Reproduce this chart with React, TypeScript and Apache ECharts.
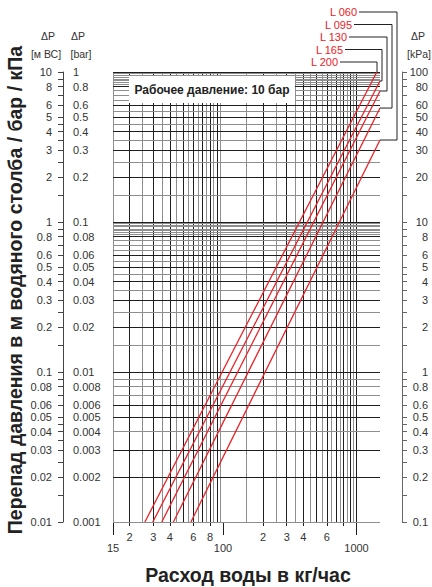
import React, { useEffect, useRef } from "react";
import * as echarts from "echarts";

const FONT = '"Liberation Sans", Arial, sans-serif';
const DARK = "#1e1e1e";
const GREY = "#8e8e8e";
const TEXT = "#333333";
const RED = "#ea2228";

// x axis: water flow, kg/h (log)
const flowMin = 15;
const flowMax = 1500;
const flowLabelValues = [15, 20, 30, 40, 60, 80, 100, 200, 300, 400, 600, 800, 1000];
const flowMajorLabels = [15, 100, 1000];
const flowMinorTicks = [20, 30, 40, 60, 80, 200, 300, 400, 600, 800];
const flowDecades = [10, 100];
const flowGridMantissas = [1.5, 2, 2.5, 3, 3.5, 4, 4.5, 5, 5.5, 6, 6.5, 7, 7.5, 8, 8.5, 9, 9.5];
const flowGridTop = [1000];

// y axis: pressure drop, m WC (log); bar = m/10, kPa = m*10
const dpMin = 0.01;
const dpMax = 10;
const dpDecades = [0.01, 0.1, 1];
const dpLabelMantissas = [1, 2, 3, 4, 5, 6, 8];
const dpTickMantissas = [1, 1.5, 2, 2.5, 3, 3.5, 4, 4.5, 5, 6, 7, 8, 9];
const dpGridMantissas = [1, 1.5, 2, 2.5, 3, 3.5, 4, 4.5, 5, 5.5, 6, 6.5, 7, 7.5, 8, 8.25, 8.5, 8.75, 9, 9.25, 9.5, 9.75];

// valve curves (two end points each)
const curveNames = ["L 060", "L 095", "L 130", "L 165", "L 200"];
const curveStartFlow = [57.5, 42.5, 34.8, 29.8, 26.0]; // kg/h at 0.01 m WC
const curveStartDp = [0.01, 0.01, 0.01, 0.01, 0.01];
const curveEndFlow = [1500, 1500, 1500, 1500, 1420];
const curveEndDp = [3.52, 5.75, 7.47, 8.71, 10];

const fmt = (v: number) => String(parseFloat(v.toPrecision(6)));

export default function App() {
  const ref = useRef<HTMLDivElement>(null);
  useEffect(() => {
    const chart = echarts.init(ref.current!, null, { renderer: "svg" });

    const dpTicks = dpDecades.flatMap((d) => dpTickMantissas.map((m) => m * d)).concat([dpMax]);
    const dpLabels = dpDecades.flatMap((d) => dpLabelMantissas.map((m) => m * d)).concat([dpMax]);

    const gridLines: any[] = [];
    flowDecades.forEach((d) =>
      flowGridMantissas.forEach((m) =>
        gridLines.push({ xAxis: m * d, lineStyle: { color: Number.isInteger(m) ? DARK : GREY, width: 1, type: "solid" } })
      )
    );
    flowGridTop.forEach((v) => gridLines.push({ xAxis: v, lineStyle: { color: DARK, width: 1, type: "solid" } }));
    dpDecades.forEach((d) =>
      dpGridMantissas.forEach((m) =>
        gridLines.push({ yAxis: m * d, lineStyle: { color: dpLabelMantissas.includes(m) ? DARK : GREY, width: 1, type: "solid" } })
      )
    );
    gridLines.push({ yAxis: dpMax, lineStyle: { color: DARK, width: 1, type: "solid" } });

    const yBase = {
      type: "log",
      logBase: 10,
      min: dpMin,
      max: dpMax,
      splitLine: { show: false },
      minorTick: { show: false },
    };

    const option: any = {
      animation: false,
      backgroundColor: "#ffffff",
      grid: { left: 113, top: 72, width: 267, height: 450, containLabel: false, outerBoundsMode: "none" },
      xAxis: [
        {
          type: "log",
          logBase: 10,
          min: flowMin,
          max: flowMax,
          position: "bottom",
          axisLine: { show: false },
          splitLine: { show: false },
          axisTick: { show: true, customValues: flowMajorLabels, length: 13, lineStyle: { color: DARK, width: 1 } },
          axisLabel: {
            show: true,
            customValues: flowLabelValues,
            showMinLabel: true,
            showMaxLabel: true,
            margin: 9,
            fontSize: 11,
            lineHeight: 11,
            fontFamily: FONT,
            color: TEXT,
            formatter: (v: number) => {
              const r = Math.round(v);
              if (flowMajorLabels.includes(r)) return "\n" + r;
              const p = Math.pow(10, Math.floor(Math.log10(v) + 1e-9));
              return String(Math.round(v / p));
            },
          },
        },
        {
          type: "log",
          logBase: 10,
          min: flowMin,
          max: flowMax,
          position: "bottom",
          axisLine: { show: false },
          splitLine: { show: false },
          axisTick: { show: true, customValues: flowMinorTicks, length: 4, lineStyle: { color: DARK, width: 1 } },
          axisLabel: { show: false },
        },
      ],
      yAxis: [
        {
          ...yBase,
          position: "left",
          offset: 50,
          axisLine: { show: true, lineStyle: { color: "#444", width: 1 } },
          axisTick: { show: true, customValues: dpTicks, length: 5, lineStyle: { color: "#444", width: 1 } },
          axisLabel: {
            show: true,
            customValues: dpLabels,
            showMinLabel: true,
            showMaxLabel: true,
            margin: 11,
            fontSize: 11,
            fontFamily: FONT,
            color: TEXT,
            formatter: (v: number) => fmt(v),
          },
        },
        {
          ...yBase,
          position: "left",
          offset: 50,
          axisLine: { show: false },
          axisTick: { show: false },
          axisLabel: {
            show: true,
            inside: true,
            customValues: dpLabels,
            showMinLabel: true,
            showMaxLabel: true,
            margin: 10,
            fontSize: 11,
            fontFamily: FONT,
            color: TEXT,
            align: "left",
            formatter: (v: number) => fmt(v / 10),
          },
        },
        {
          ...yBase,
          position: "right",
          offset: 22,
          axisLine: { show: true, lineStyle: { color: "#666", width: 1 } },
          axisTick: { show: true, customValues: dpTicks, length: 5, lineStyle: { color: "#666", width: 1 } },
          axisLabel: {
            show: true,
            customValues: dpLabels,
            showMinLabel: true,
            showMaxLabel: true,
            margin: 26,
            align: "right",
            fontSize: 11,
            fontFamily: FONT,
            color: TEXT,
            formatter: (v: number) => fmt(v * 10),
          },
        },
      ],
      series: [
        {
          type: "line",
          name: "grid",
          xAxisIndex: 0,
          yAxisIndex: 0,
          data: [],
          z: 1,
          silent: true,
          markLine: {
            silent: true,
            symbol: ["none", "none"],
            label: { show: false },
            emphasis: { disabled: true },
            animation: false,
            data: gridLines,
          },
        },
        ...curveNames.map((name, i) => ({
          type: "line",
          name,
          xAxisIndex: 0,
          yAxisIndex: 0,
          z: 5,
          symbol: "none",
          silent: true,
          lineStyle: { color: RED, width: 1.3 },
          data: [
            [curveStartFlow[i], curveStartDp[i]],
            [curveEndFlow[i], curveEndDp[i]],
          ],
        })),
      ],
    };

    chart.setOption(option);

    // annotations: labels with leader lines to the curve ends
    const textRight = [357, 352, 347, 343, 338];
    const textY = [12, 24.5, 37, 49.5, 62];
    const leaderX = [397, 392, 387, 382, 377];
    const graphics: any[] = [];
    curveNames.forEach((name, i) => {
      const end = chart.convertToPixel({ xAxisIndex: 0, yAxisIndex: 0 }, [curveEndFlow[i], curveEndDp[i]]) as number[];
      graphics.push({
        type: "text",
        z: 20,
        style: {
          text: name,
          x: textRight[i],
          y: textY[i],
          fill: RED,
          font: `11px ${FONT}`,
          align: "right",
          verticalAlign: "middle",
        },
      });
      graphics.push({
        type: "polyline",
        z: 20,
        shape: {
          points: [
            [textRight[i] + 2, textY[i]],
            [leaderX[i], textY[i]],
            [leaderX[i], end[1]],
            [end[0], end[1]],
          ],
        },
        style: { stroke: "#222", lineWidth: 1, fill: null },
      });
    });

    // pressure box
    graphics.push({
      type: "rect",
      z: 20,
      shape: { x: 129, y: 76, width: 166, height: 27 },
      style: { fill: "#ffffff" },
    });
    graphics.push({
      type: "text",
      z: 21,
      style: {
        text: "Рабочее давление: 10 бар",
        x: 212,
        y: 90,
        fill: "#222",
        font: `bold 12px ${FONT}`,
        align: "center",
        verticalAlign: "middle",
      },
    });

    // axis headers
    const header = (text: string, x: number, y: number, align = "center") => ({
      type: "text",
      z: 20,
      style: { text, x, y, fill: TEXT, font: `10.5px ${FONT}`, align, verticalAlign: "middle" },
    });
    graphics.push(header("ΔP", 48, 36));
    graphics.push(header("[м ВС]", 46, 54));
    graphics.push(header("ΔP", 78, 36));
    graphics.push(header("[bar]", 81, 54));
    graphics.push(header("ΔP", 418, 36));
    graphics.push(header("[kPa]", 419, 54));

    // titles
    graphics.push({
      type: "text",
      z: 20,
      x: 15,
      y: 290,
      rotation: Math.PI / 2,
      style: {
        text: "Перепад давления в м водяного столба / бар / кПа",
        x: 0,
        y: 0,
        fill: "#222",
        font: `bold 19.5px ${FONT}`,
        align: "center",
        verticalAlign: "middle",
      },
    });
    graphics.push({
      type: "text",
      z: 20,
      style: {
        text: "Расход воды в кг/час",
        x: 248,
        y: 575,
        fill: "#222",
        font: `bold 19.5px ${FONT}`,
        align: "center",
        verticalAlign: "middle",
      },
    });

    chart.setOption({ graphic: graphics });

    return () => chart.dispose();
  }, []);

  return <div ref={ref} style={{ position: "absolute", left: 0, top: 0, width: 432, height: 587 }} />;
}
